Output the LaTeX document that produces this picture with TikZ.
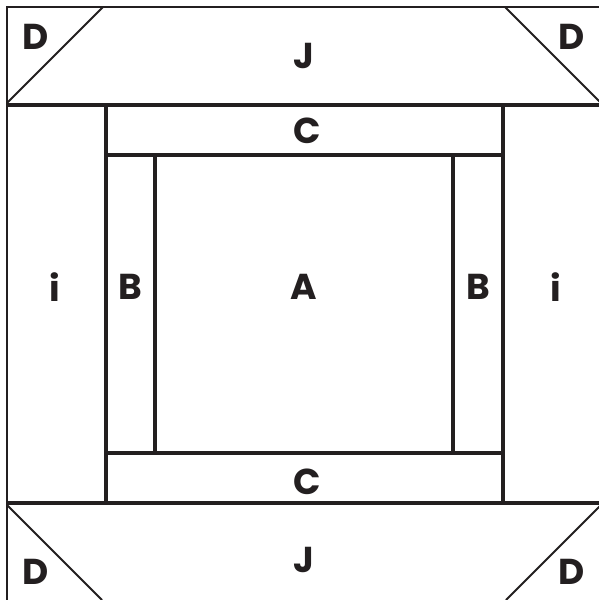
\documentclass[tikz,border=0pt]{standalone}
\usepackage{fontspec}
\setmainfont{Poppins}
\definecolor{ink}{HTML}{231F20}
\tikzset{
  outer/.style={draw=ink, line width=2.6pt},
  seam/.style={draw=ink, line width=4pt},
  diag/.style={draw=ink, line width=2pt},
  lbl/.style={text=ink, font=\fontsize{36}{36}\selectfont\bfseries, inner sep=0pt}
}
\begin{document}
\begin{tikzpicture}[x=1pt,y=-1pt]
\useasboundingbox (0,0) rectangle (598,600);
\fill[white] (0,0) rectangle (598,600);
% outer border
\draw[outer] (7,7) rectangle (601,601);
% main horizontal seams
\draw[seam] (7,105) -- (601,105);
\draw[seam] (7,503) -- (601,503);
% i/B verticals
\draw[seam] (106,105) -- (106,503);
\draw[seam] (503,105) -- (503,503);
% C seams
\draw[seam] (106,155) -- (503,155);
\draw[seam] (106,453) -- (503,453);
% B/A verticals
\draw[seam] (155,155) -- (155,453);
\draw[seam] (453,155) -- (453,453);
% corner diagonals
\draw[diag] (7,103) -- (103,7);
\draw[diag] (505,7) -- (601,103);
\draw[diag] (7,505) -- (102,600);
\draw[diag] (601,505) -- (506,600);
% labels
\node[lbl] (d1) at (36,37) {D};
\node[lbl] (d2) at (572,37) {D};
\node[lbl] (j1) at (304,56) {J};
\node[lbl] (c1) at (307,131) {C};
\node[lbl] (i1) at (55,287) {i};
\node[lbl] (b1) at (130,287) {B};
\node[lbl] (a) at (304,287) {A};
\node[lbl] (b2) at (478,287) {B};
\node[lbl] (i2) at (556,287) {i};
\node[lbl] (c2) at (307,482) {C};
\node[lbl] (j2) at (304,560) {J};
\node[lbl] (d3) at (36,572) {D};
\node[lbl] (d4) at (572,572) {D};
\end{tikzpicture}
\end{document}
